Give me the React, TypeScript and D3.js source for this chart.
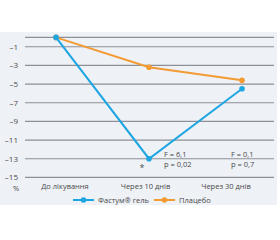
import { useEffect, useRef } from 'react';
import * as d3 from 'd3';

const categories = ['До лікування', 'Через 10 днів', 'Через 30 днів'];
const fastumValues = [0, -13, -5.5];
const placeboValues = [0, -3.2, -4.6];
const gridValues = [0, -1, -3, -5, -7, -9, -11, -13, -15];
const tickLabels = ['–1', '–3', '–5', '–7', '–9', '–11', '–13', '–15'];
const stats = [
  { category: 'Через 10 днів', f: 'F = 6,1', p: 'p = 0,02' },
  { category: 'Через 30 днів', f: 'F = 0,1', p: 'p = 0,7' },
];

const BLUE = '#1ea6e3';
const ORANGE = '#f39b33';
const TEXT = '#4a4a4a';
const FONT = "'Open Sans', 'Noto Sans', sans-serif";

export default function App() {
  const svgRef = useRef<SVGSVGElement>(null);
  const width = 280;
  const height = 240;

  useEffect(() => {
    if (!svgRef.current) return;
    const svg = d3.select(svgRef.current);
    svg.selectAll('*').remove();

    // panel background
    svg.append('rect')
      .attr('x', 0).attr('y', 32)
      .attr('width', 277).attr('height', 173)
      .attr('fill', '#eef1f6');

    const yScale = d3.scaleLinear().domain([0, -15]).range([37.4, 177.4]);
    const xPoint = d3.scalePoint().domain(categories).range([56, 242]);
    const xLabel = d3.scalePoint().domain(categories).range([65, 226]);

    // gridlines
    svg.append('g')
      .selectAll('line')
      .data(gridValues)
      .enter()
      .append('line')
      .attr('x1', 25).attr('x2', 274)
      .attr('y1', d => yScale(d)).attr('y2', d => yScale(d))
      .attr('stroke', '#8d9096')
      .attr('stroke-width', 1.2);

    // y tick labels
    svg.append('g')
      .selectAll('text')
      .data(tickLabels)
      .enter()
      .append('text')
      .attr('x', 18)
      .attr('y', (d, i) => yScale(gridValues[i + 1]) + 3)
      .attr('text-anchor', 'end')
      .attr('font-size', '8px')
      .attr('fill', TEXT)
      .style('font-family', FONT)
      .text(d => d);

    svg.append('text')
      .attr('x', 16).attr('y', 191)
      .attr('text-anchor', 'middle')
      .attr('font-size', '7.5px')
      .attr('fill', TEXT)
      .style('font-family', FONT)
      .text('%');

    // x labels
    svg.append('g')
      .selectAll('text')
      .data(categories)
      .enter()
      .append('text')
      .attr('x', d => xLabel(d) || 0)
      .attr('y', 189)
      .attr('text-anchor', 'middle')
      .attr('font-size', '7.5px')
      .attr('fill', TEXT)
      .style('font-family', FONT)
      .text(d => d);

    const line = d3.line<number>()
      .x((d, i) => xPoint(categories[i]) || 0)
      .y(d => yScale(d));

    const drawSeries = (values: number[], color: string) => {
      svg.append('path')
        .datum(values)
        .attr('d', line)
        .attr('fill', 'none')
        .attr('stroke', color)
        .attr('stroke-width', 2);
      svg.append('g')
        .selectAll('circle')
        .data(values)
        .enter()
        .append('circle')
        .attr('cx', (d, i) => xPoint(categories[i]) || 0)
        .attr('cy', d => yScale(d))
        .attr('r', 2.8)
        .attr('fill', color);
    };

    drawSeries(placeboValues, ORANGE);
    drawSeries(fastumValues, BLUE);

    // significance star
    svg.append('text')
      .attr('x', (xPoint(categories[1]) || 0) - 7)
      .attr('y', yScale(-13) + 12.5)
      .attr('text-anchor', 'middle')
      .attr('font-size', '9px')
      .attr('fill', TEXT)
      .style('font-family', FONT)
      .text('*');

    // stats annotations
    stats.forEach(s => {
      const x = (xPoint(s.category) || 0) + 15;
      const offset = s.category === categories[2] ? -26 : 0;
      svg.append('text')
        .attr('x', x + offset).attr('y', 156.5)
        .attr('font-size', '7.5px')
        .attr('fill', TEXT)
        .style('font-family', FONT)
        .text(s.f);
      svg.append('text')
        .attr('x', x + offset).attr('y', 166.5)
        .attr('font-size', '7.5px')
        .attr('fill', TEXT)
        .style('font-family', FONT)
        .text(s.p);
    });

    // legend
    const legend = [
      { name: 'Фастум® гель', color: BLUE, x: 73 },
      { name: 'Плацебо', color: ORANGE, x: 154 },
    ];
    legend.forEach(l => {
      const g = svg.append('g').attr('transform', `translate(${l.x}, 200)`);
      g.append('line')
        .attr('x1', 0).attr('x2', 21)
        .attr('stroke', l.color)
        .attr('stroke-width', 2);
      g.append('circle')
        .attr('cx', 10.5).attr('r', 2.8)
        .attr('fill', l.color);
      g.append('text')
        .attr('x', 25).attr('y', 2.8)
        .attr('font-size', '7.5px')
        .attr('fill', TEXT)
        .style('font-family', FONT)
        .text(l.name);
    });
  }, []);

  return (
    <svg
      ref={svgRef}
      width={width}
      height={height}
      style={{ position: 'absolute', left: 0, top: 0, background: '#fff' }}
    />
  );
}
